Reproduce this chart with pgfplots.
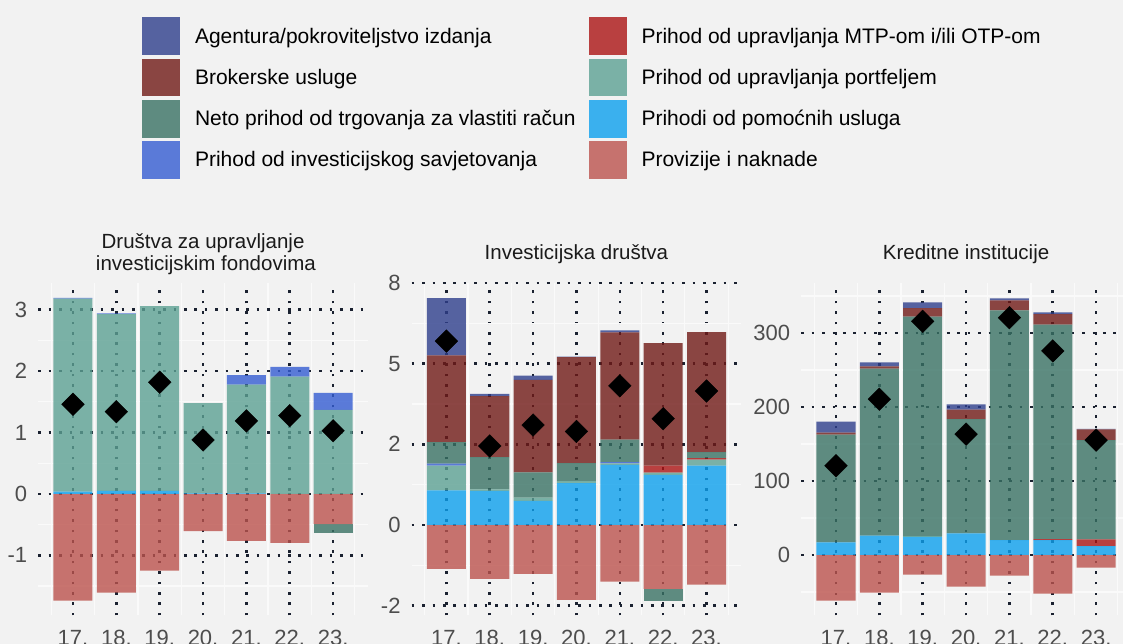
\documentclass[border=0pt]{standalone}
\usepackage{pgfplots}
\usepackage{pgfplotstable}
\pgfplotsset{compat=1.18}
\usepackage{fontspec}
\setmainfont{Liberation Sans}
\definecolor{bg}{HTML}{F2F2F2}
\definecolor{cAg}{RGB}{46,62,140}
\definecolor{cBr}{RGB}{113,26,23}
\definecolor{cNe}{RGB}{57,114,100}
\definecolor{cSa}{RGB}{52,93,210}
\definecolor{cMt}{RGB}{171,20,20}
\definecolor{cPf}{RGB}{93,161,147}
\definecolor{cPo}{RGB}{13,160,237}
\definecolor{cPr}{RGB}{188,83,77}
\definecolor{gridc}{HTML}{1A2130}
\definecolor{minorc}{HTML}{FAFAFA}
\definecolor{tickc}{HTML}{4D4D4D}
\definecolor{titc}{HTML}{1A1A1A}

% po = pomocne, pf = portfelj, sa = savjetovanje, mt = MTP/OTP, nep = neto (+),
% br = brokerske, ag = agentura, pr = provizije, nen = neto (-), net = ukupno
\pgfplotstableread{
x  po    pf    sa    mt    nep    br    ag    pr     nen    net
17 0.04  3.14  0.015 0     0      0     0     -1.737 0      1.46
18 0.05  2.88  0.01  0     0      0     0     -1.607 0      1.34
19 0.05  3.01  0     0     0      0     0     -1.249 0      1.82
20 0.01  1.47  0     0     0      0     0     -0.603 0      0.88
21 0.01  1.77  0.157 0     0      0     0     -0.765 0      1.19
22 0     1.911 0.157 0     0      0     0     -0.798 0      1.276
23 0     1.368 0.277 0     0      0     0     -0.489 -0.147 1.03
}\dataD
\pgfplotstableread{
x  po    pf    sa    mt    nep    br    ag    pr     nen    net
17 0.859 0.611 0.05  0     0.537  2.148 1.421 -1.09  0      4.56
18 0.843 0.04  0     0     0.80   1.51  0.06  -1.338 0      1.958
19 0.595 0.08  0     0     0.628  2.297 0.10  -1.214 0      2.478
20 1.04  0.05  0     0     0.446  2.627 0.01  -1.859 0      2.32
21 1.487 0.04  0.03  0     0.56   2.66  0.05  -1.404 0      3.45
22 1.239 0.058 0     0.173 0      3.04  0     -1.586 -0.289 2.635
23 1.47  0.149 0     0.04  0.149  2.974 0     -1.479 0      3.32
}\dataI
\pgfplotstableread{
x  po    pf    sa    mt    nep    br    ag    pr     nen    net
17 17.1  0     0     0     145.7  2.5   14.8  -61.6  0      120.6
18 26.1  0     0     0     225.8  3.1   5.4   -50.8  0      210.5
19 24.3  1     0     0     296.8  11.7  7.6   -26.5  0      315.8
20 29.2  0     0     0     154.3  13.0  7.2   -42.7  0      163.3
21 20.2  0     0     0     310.4  13.5  2.7   -27.9  0      320.7
22 20.2  0     0     1.3   289.7  14.4  2.2   -52.2  0      275.8
23 12.1  0     0     9.0   134.1  14.4  0.9   -17.1  0      155.2
}\dataK

\pgfplotsset{
  panel/.style={scale only axis, width=329.5pt, height=332.5pt, anchor=south west,
    xmin=16.2, xmax=23.8, enlargelimits=false},
  gridpanel/.style={panel, axis line style={draw=none}, tick style={draw=none},
    major tick length=0pt, minor tick length=0pt,
    xtick={17,18,19,20,21,22,23}, xticklabels={17.,18.,19.,20.,21.,22.,23.},
    minor xtick={16.5,17.5,18.5,19.5,20.5,21.5,22.5,23.5},
    grid=both,
    major grid style={draw=gridc, line width=2.6pt, dash pattern=on 2.6pt off 7.8pt},
    minor grid style={draw=minorc, line width=1.2pt},
    tick label style={font=\fontsize{22}{26}\selectfont, text=tickc, inner sep=0pt},
    xticklabel style={anchor=north, yshift=-14.5pt},
    yticklabel style={anchor=east, xshift=-11pt}},
  barpanel/.style={panel, hide axis, ybar stacked, bar width=0.9,
    every axis plot/.append style={draw=none, fill opacity=0.8}},
  dpanel/.style={panel, hide axis},
  diam/.style={only marks, mark=square*, mark size=8pt,
    mark options={rotate=45, fill=black, draw=black}},
}

\begin{document}
\begin{tikzpicture}
\fill[bg] (0pt,0pt) rectangle (1123pt,644pt);

% ---------------- Panel 1 ----------------
\begin{axis}[gridpanel, at={(38.3pt,28.5pt)}, ymin=-1.979, ymax=3.436,
  ytick={-1,0,1,2,3}, yticklabels={-1,0,1,2,3},
  minor ytick={-1.5,-0.5,0.5,1.5,2.5}]
\addplot[draw=none, forget plot] coordinates {(17,0)};
\end{axis}
\begin{axis}[barpanel, at={(38.3pt,28.5pt)}, ymin=-1.979, ymax=3.436]
\addplot[fill=cPr] table[x=x,y=pr]{\dataD};
\addplot[fill=cNe] table[x=x,y=nen]{\dataD};
\end{axis}
\begin{axis}[barpanel, at={(38.3pt,28.5pt)}, ymin=-1.979, ymax=3.436]
\addplot[fill=cPo] table[x=x,y=po]{\dataD};
\addplot[fill=cPf] table[x=x,y=pf]{\dataD};
\addplot[fill=cSa] table[x=x,y=sa]{\dataD};
\addplot[fill=cMt] table[x=x,y=mt]{\dataD};
\addplot[fill=cNe] table[x=x,y=nep]{\dataD};
\addplot[fill=cBr] table[x=x,y=br]{\dataD};
\addplot[fill=cAg] table[x=x,y=ag]{\dataD};
\end{axis}
\begin{axis}[dpanel, at={(38.3pt,28.5pt)}, ymin=-1.979, ymax=3.436]
\addplot[diam] table[x=x,y=net]{\dataD};
\end{axis}

% ---------------- Panel 2 ----------------
\begin{axis}[gridpanel, at={(411.7pt,28.5pt)}, ymin=-2.245, ymax=6.0,
  ytick={-2,0,2,4,6}, yticklabels={-2,0,2,5,8},
  minor ytick={-1,1,3,5}]
\addplot[draw=none, forget plot] coordinates {(17,0)};
\end{axis}
\begin{axis}[barpanel, at={(411.7pt,28.5pt)}, ymin=-2.245, ymax=6.0]
\addplot[fill=cPr] table[x=x,y=pr]{\dataI};
\addplot[fill=cNe] table[x=x,y=nen]{\dataI};
\end{axis}
\begin{axis}[barpanel, at={(411.7pt,28.5pt)}, ymin=-2.245, ymax=6.0]
\addplot[fill=cPo] table[x=x,y=po]{\dataI};
\addplot[fill=cPf] table[x=x,y=pf]{\dataI};
\addplot[fill=cSa] table[x=x,y=sa]{\dataI};
\addplot[fill=cMt] table[x=x,y=mt]{\dataI};
\addplot[fill=cNe] table[x=x,y=nep]{\dataI};
\addplot[fill=cBr] table[x=x,y=br]{\dataI};
\addplot[fill=cAg] table[x=x,y=ag]{\dataI};
\end{axis}
\begin{axis}[dpanel, at={(411.7pt,28.5pt)}, ymin=-2.245, ymax=6.0]
\addplot[diam] table[x=x,y=net]{\dataI};
\end{axis}

% ---------------- Panel 3 ----------------
\begin{axis}[gridpanel, at={(801.3pt,28.5pt)}, ymin=-81.8, ymax=367.6,
  ytick={0,100,200,300}, yticklabels={0,100,200,300},
  minor ytick={-50,50,150,250,350}]
\addplot[draw=none, forget plot] coordinates {(17,0)};
\end{axis}
\begin{axis}[barpanel, at={(801.3pt,28.5pt)}, ymin=-81.8, ymax=367.6]
\addplot[fill=cPr] table[x=x,y=pr]{\dataK};
\addplot[fill=cNe] table[x=x,y=nen]{\dataK};
\end{axis}
\begin{axis}[barpanel, at={(801.3pt,28.5pt)}, ymin=-81.8, ymax=367.6]
\addplot[fill=cPo] table[x=x,y=po]{\dataK};
\addplot[fill=cPf] table[x=x,y=pf]{\dataK};
\addplot[fill=cSa] table[x=x,y=sa]{\dataK};
\addplot[fill=cMt] table[x=x,y=mt]{\dataK};
\addplot[fill=cNe] table[x=x,y=nep]{\dataK};
\addplot[fill=cBr] table[x=x,y=br]{\dataK};
\addplot[fill=cAg] table[x=x,y=ag]{\dataK};
\end{axis}
\begin{axis}[dpanel, at={(801.3pt,28.5pt)}, ymin=-81.8, ymax=367.6]
\addplot[diam] table[x=x,y=net]{\dataK};
\end{axis}

% ---------------- Titles ----------------
\begin{scope}[every node/.style={anchor=base, inner sep=0pt, text=titc,
    font=\fontsize{20.5}{24}\selectfont}]
\node at (203.05pt,395.7pt) {Društva za upravljanje};
\node at (205.9pt,373pt) {investicijskim fondovima};
\node at (576.45pt,384.7pt) {Investicijska društva};
\node at (966.05pt,384.7pt) {Kreditne institucije};
\end{scope}

% ---------------- Legend ----------------
\begin{axis}[at={(0pt,0pt)}, anchor=south west, scale only axis,
  width=1123pt, height=644pt, hide axis, xmin=0, xmax=1, ymin=0, ymax=1,
  legend columns=2, legend cell align=left,
  legend image code/.code={\fill[#1] (0pt,-18.85pt) rectangle (38pt,18.85pt);},
  legend style={at={(0.12645,0.9731)}, anchor=north west, draw=none, fill=none,
    inner sep=0pt, outer sep=0pt, row sep=3.6pt,
    font=\fontsize{21}{25}\selectfont, text=black,
    nodes={inner sep=0pt},
    /tikz/every odd column/.append style={column sep=15pt},
    /tikz/every even column/.append style={column sep=13pt}}]
\addplot[draw=none, forget plot] coordinates {(0,0)};
\addlegendimage{fill=cAg, fill opacity=0.8, draw=none}
\addlegendentry{Agentura/pokroviteljstvo izdanja}
\addlegendimage{fill=cMt, fill opacity=0.8, draw=none}
\addlegendentry{Prihod od upravljanja MTP-om i/ili OTP-om}
\addlegendimage{fill=cBr, fill opacity=0.8, draw=none}
\addlegendentry{Brokerske usluge}
\addlegendimage{fill=cPf, fill opacity=0.8, draw=none}
\addlegendentry{Prihod od upravljanja portfeljem}
\addlegendimage{fill=cNe, fill opacity=0.8, draw=none}
\addlegendentry{Neto prihod od trgovanja za vlastiti račun}
\addlegendimage{fill=cPo, fill opacity=0.8, draw=none}
\addlegendentry{Prihodi od pomoćnih usluga}
\addlegendimage{fill=cSa, fill opacity=0.8, draw=none}
\addlegendentry{Prihod od investicijskog savjetovanja}
\addlegendimage{fill=cPr, fill opacity=0.8, draw=none}
\addlegendentry{Provizije i naknade}
\end{axis}

\pgfresetboundingbox
\useasboundingbox (0pt,0pt) rectangle (1123pt,644pt);
\end{tikzpicture}
\end{document}
